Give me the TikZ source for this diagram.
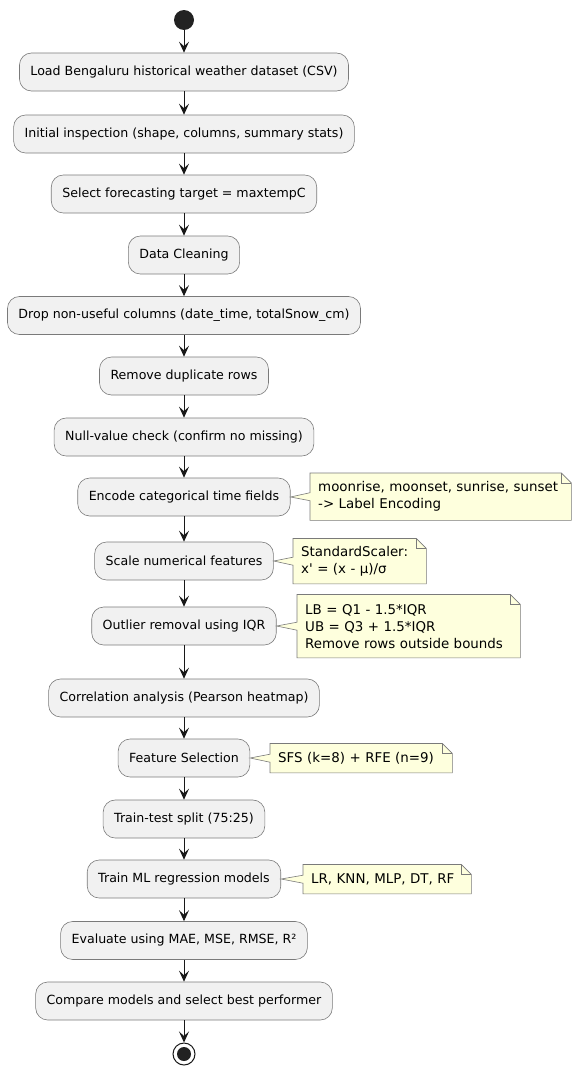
\documentclass[tikz,border=0pt]{standalone}
\usepackage{fontspec}
\setmainfont{DejaVu Sans}[Ligatures=TeXOff]
\usetikzlibrary{arrows.meta}
\definecolor{actfill}{HTML}{F1F1F1}
\definecolor{actline}{HTML}{7A7A7A}
\definecolor{linec}{HTML}{181818}
\definecolor{notefill}{HTML}{FEFFDD}
\definecolor{startc}{HTML}{222222}
\tikzset{
  act/.style={draw=actline, line width=0.6pt, fill=actfill, rounded corners=12pt,
    minimum height=38pt, inner xsep=11pt, inner ysep=0pt, text=black,
    font=\fontsize{12.6}{14}\selectfont},
  notetxt/.style={anchor=north west, inner xsep=8pt, inner ysep=0pt, align=left,
    text=black, font=\fontsize{13.4}{17}\selectfont},
  noteline/.style={draw=actline, line width=0.6pt, fill=notefill, line join=miter},
  flow/.style={draw=linec, line width=1pt, -{Stealth[length=11pt,width=10pt,inset=4.5pt]}}
}
\newcommand{\mynote}[2]{%
  \draw[noteline] (#1.north west) -- ([xshift=-10pt]#1.north east)
    -- ([yshift=-10pt]#1.north east) -- (#1.south east) -- (#1.south west)
    -- ([yshift=-4pt]#1.west) -- (#2.east) -- ([yshift=4pt]#1.west) -- cycle;
  \draw[noteline, fill=none] ([xshift=-10pt]#1.north east) |- ([yshift=-10pt]#1.north east);
}
\begin{document}
\begin{tikzpicture}[x=1pt,y=-1pt]
\useasboundingbox (0,0) rectangle (572,1068);
\node[circle, fill=startc, minimum size=20pt, inner sep=0pt] (start) at (184,20) {};
\node[act] (n1) at (184,72) {Load Bengaluru historical weather dataset (CSV)};
\node[act] (n2) at (184,134) {Initial inspection (shape, columns, summary stats)};
\node[act] (n3) at (184,194) {Select forecasting target = maxtempC};
\node[act] (n4) at (184,255) {Data Cleaning};
\node[act] (n5) at (184,315.5) {Drop non-useful columns (date\_time, totalSnow\_cm)};
\node[act] (n6) at (184,376) {Remove duplicate rows};
\node[act] (n7) at (184,437) {Null-value check (confirm no missing)};
\node[act] (n8) at (184,497) {Encode categorical time fields};
\node[act] (n9) at (184,561) {Scale numerical features};
\node[act] (n10) at (184,626) {Outlier removal using IQR};
\node[act] (n11) at (184,698) {Correlation analysis (Pearson heatmap)};
\node[act] (n12) at (184,758) {Feature Selection};
\node[act] (n13) at (184,819) {Train-test split (75:25)};
\node[act] (n14) at (184,879) {Train ML regression models};
\node[act] (n15) at (184,940.5) {Evaluate using MAE, MSE, RMSE, R²};
\node[act] (n16) at (184,1001) {Compare models and select best performer};
\node[circle, draw=linec, line width=1pt, fill=white, minimum size=22pt, inner sep=0pt] (stop) at (184,1054) {};
\node[circle, fill=startc, minimum size=14pt, inner sep=0pt] (stopcore) at (stop.center) {};

\foreach \a/\b in {start/n1,n1/n2,n2/n3,n3/n4,n4/n5,n5/n6,n6/n7,n7/n8,n8/n9,n9/n10,n10/n11,n11/n12,n12/n13,n13/n14,n14/n15,n15/n16,n16/stop}
  \draw[flow] (\a) -- (\b);

% notes: shapes first, then their texts on top
\path (310,473) node[notetxt, text width=245pt, minimum height=47pt] (t1) {}
      (293,538.5) node[notetxt, text width=117pt, minimum height=45pt] (t2) {}
      (297,594.5) node[notetxt, text width=207pt, minimum height=63pt] (t3) {}
      (270,743.5) node[notetxt, text width=166pt, minimum height=29pt] (t4) {}
      (303,864.5) node[notetxt, text width=152pt, minimum height=29pt] (t5) {};
\mynote{t1}{n8}
\mynote{t2}{n9}
\mynote{t3}{n10}
\mynote{t4}{n12}
\mynote{t5}{n14}
\node[notetxt, text width=245pt, minimum height=47pt] (x1) at (t1.north west) {moonrise, moonset, sunrise, sunset\\-> Label Encoding};
\node[notetxt, text width=117pt, minimum height=45pt] (x2) at (t2.north west) {StandardScaler:\\x' = (x - µ)/σ};
\node[notetxt, text width=207pt, minimum height=63pt] (x3) at (t3.north west) {LB = Q1 - 1.5*IQR\\UB = Q3 + 1.5*IQR\\Remove rows outside bounds};
\node[notetxt, text width=166pt, minimum height=29pt] (x4) at (t4.north west) {SFS (k=8) + RFE (n=9)};
\node[notetxt, text width=152pt, minimum height=29pt] (x5) at (t5.north west) {LR, KNN, MLP, DT, RF};
\end{tikzpicture}
\end{document}
